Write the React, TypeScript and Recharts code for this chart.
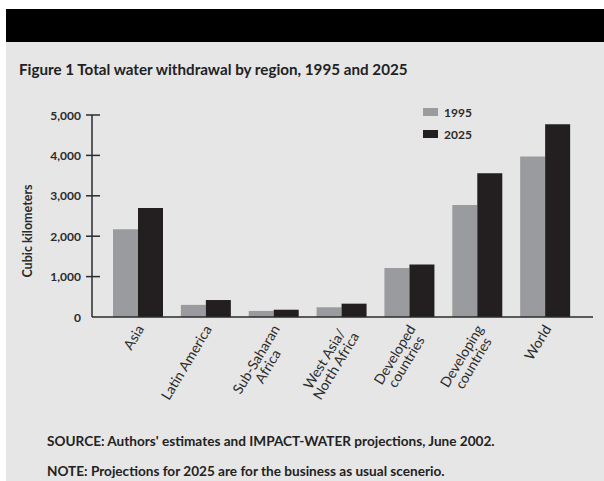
import React from 'react';
import { BarChart, Bar, XAxis, YAxis, Legend } from 'recharts';

// values (cubic kilometers)
const regions = [
  'Asia',
  'Latin America',
  'Sub-Saharan\nAfrica',
  'West Asia/\nNorth Africa',
  'Developed\ncountries',
  'Developing\ncountries',
  'World',
];
const withdrawal1995 = [2170, 300, 150, 240, 1210, 2770, 3970];
const withdrawal2025 = [2700, 420, 180, 330, 1300, 3560, 4770];
const yTicks = [0, 1000, 2000, 3000, 4000, 5000];

const chartData = regions.map((name, i) => ({
  name,
  y1995: withdrawal1995[i],
  y2025: withdrawal2025[i],
}));

const FONT = 'Lato, "Open Sans", sans-serif';
const INK = '#2b2b2b';
const GREY_BAR = '#9a9b9f';
const DARK_BAR = '#231f20';

let canvasCtx: CanvasRenderingContext2D | null = null;
const measure = (text: string, font: string) => {
  if (!canvasCtx) canvasCtx = document.createElement('canvas').getContext('2d');
  if (!canvasCtx) return text.length * 7;
  canvasCtx.font = font;
  return canvasCtx.measureText(text).width;
};

const XTick = (props: any) => {
  const { x, y, payload } = props;
  const lines = String(payload.value).split('\n');
  const size = 14;
  const font = `400 ${size}px ${FONT}`;
  const w = Math.max(...lines.map((l) => measure(l, font)));
  return (
    <g transform={`translate(${x + 2},${y + 9}) rotate(-59)`}>
      {lines.map((l, i) => (
        <text
          key={i}
          x={-w / 2}
          y={i * 13.5}
          textAnchor="middle"
          dominantBaseline="central"
          fontFamily={FONT}
          fontSize={size}
          fill={INK}
        >
          {l}
        </text>
      ))}
    </g>
  );
};

const YTick = (props: any) => {
  const { x, y, payload } = props;
  return (
    <g>
      {payload.value !== 0 && (
        <line x1={x - 6} x2={x + 8} y1={y} y2={y} stroke={INK} strokeWidth={1.5} />
      )}
      <text
        x={x - 11}
        y={y}
        textAnchor="end"
        dominantBaseline="central"
        fontFamily={FONT}
        fontSize={12}
        fontWeight={700}
        fill={INK}
      >
        {payload.value.toLocaleString('en-US')}
      </text>
    </g>
  );
};

const LegendBox = () => (
  <div style={{ fontFamily: FONT, fontSize: 12, fontWeight: 700, color: INK }}>
    {[
      { label: '1995', color: GREY_BAR },
      { label: '2025', color: DARK_BAR },
    ].map((item) => (
      <div key={item.label} style={{ display: 'flex', alignItems: 'center', height: 22 }}>
        <span style={{ width: 15, height: 8, background: item.color, marginRight: 6 }} />
        {item.label}
      </div>
    ))}
  </div>
);

export default function App() {
  return (
    <div style={{ position: 'absolute', left: 0, top: 0, width: 604, height: 481, background: '#fff', overflow: 'hidden' }}>
      <div style={{ position: 'absolute', left: 6, top: 9, width: 598, height: 33, background: '#000' }} />
      <div style={{ position: 'absolute', left: 6, top: 42, width: 598, height: 439, background: '#e6e6e6' }} />
      <div
        style={{
          position: 'absolute',
          left: 19,
          top: 60,
          fontFamily: FONT,
          fontSize: 15.2,
          fontWeight: 700,
          color: '#222',
          whiteSpace: 'nowrap',
        }}
      >
        Figure 1 Total water withdrawal by region, 1995 and 2025
      </div>
      <div style={{ position: 'absolute', left: 0, top: 0 }}>
        <BarChart
          width={604}
          height={481}
          data={chartData}
          margin={{ top: 115, right: 11, bottom: 64, left: 0 }}
          barGap={0}
          barCategoryGap={9}
        >
          <XAxis
            dataKey="name"
            height={100}
            interval={0}
            padding={{ left: 12, right: 14 }}
            tickLine={false}
            tickSize={0}
            tickMargin={0}
            axisLine={{ stroke: INK, strokeWidth: 1.5 }}
            tick={<XTick />}
          />
          <YAxis
            width={92}
            domain={[0, 5000]}
            ticks={yTicks}
            interval={0}
            tickLine={false}
            tickSize={0}
            tickMargin={0}
            axisLine={{ stroke: INK, strokeWidth: 1.5 }}
            tick={<YTick />}
            label={{
              content: () => (
                <text
                  x={27}
                  y={231}
                  transform="rotate(-90 27 231)"
                  textAnchor="middle"
                  dominantBaseline="central"
                  fontFamily={FONT}
                  fontSize={12.5}
                  fontWeight={700}
                  fill={INK}
                >
                  Cubic kilometers
                </text>
              ),
            }}
          />
          <Legend
            layout="vertical"
            align="center"
            verticalAlign="middle"
            content={<LegendBox />}
            wrapperStyle={{ left: 423, top: 101, width: 80 }}
          />
          <Bar dataKey="y1995" name="1995" fill={GREY_BAR} isAnimationActive={false} />
          <Bar dataKey="y2025" name="2025" fill={DARK_BAR} isAnimationActive={false} />
        </BarChart>
      </div>
      <div
        style={{
          position: 'absolute',
          left: 47,
          top: 433,
          fontFamily: FONT,
          fontSize: 13.6,
          fontWeight: 700,
          color: '#222',
          whiteSpace: 'nowrap',
        }}
      >
        SOURCE: Authors' estimates and IMPACT-WATER projections, June 2002.
      </div>
      <div
        style={{
          position: 'absolute',
          left: 47,
          top: 463,
          fontFamily: FONT,
          fontSize: 13.6,
          fontWeight: 700,
          color: '#222',
          whiteSpace: 'nowrap',
        }}
      >
        NOTE: Projections for 2025 are for the business as usual scenerio.
      </div>
    </div>
  );
}
